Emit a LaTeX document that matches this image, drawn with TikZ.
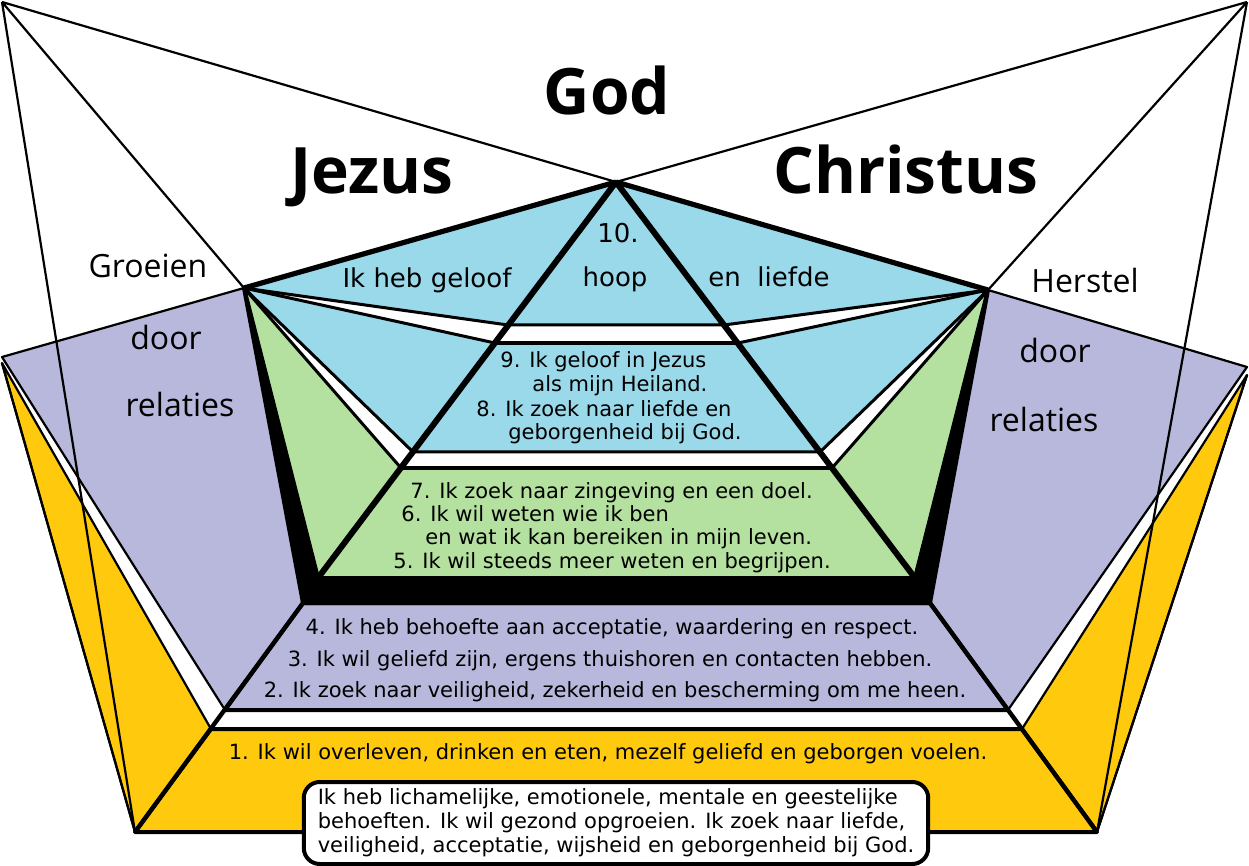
\documentclass[tikz,border=0pt]{standalone}
\usepackage{fontspec}
\setmainfont{DejaVu Sans}
\newfontfamily\titlefont{Open Sans}
\definecolor{skyblue}{HTML}{99D9EA}
\definecolor{palegreen}{HTML}{B4E0A0}
\definecolor{lavender}{HTML}{B8B8DC}
\definecolor{gold}{HTML}{FFC90E}

\begin{document}
\begin{tikzpicture}[x=0.5pt,y=-0.5pt,line join=round,
  thin line/.style={line width=1.1pt},
  txt/.style={inner sep=0pt,font=\fontsize{10.5}{12}\selectfont},
  toptxt/.style={inner sep=0pt,font=\fontsize{13}{15}\selectfont},
  big/.style={inner sep=0pt,font=\titlefont\bfseries\fontsize{32}{36}\selectfont},
  side/.style={inner sep=0pt,font=\titlefont\fontsize{16}{18}\selectfont}]
\useasboundingbox[fill=white] (0,0) rectangle (1249,866);
% outer points
\coordinate (TL) at (2,2); \coordinate (TR) at (1247,2);
\coordinate (A) at (616,182);
\coordinate (L) at (244,288); \coordinate (R) at (988,290);
\coordinate (FL) at (2,357); \coordinate (FR) at (1247,367);
\coordinate (FLy) at (2,363); \coordinate (FRy) at (1247,375);
\coordinate (BL) at (135,832); \coordinate (BR) at (1097,832);
% points of the steps
\coordinate (l325) at (508,325); \coordinate (r325) at (724,325);
\coordinate (l343) at (495,343); \coordinate (r343) at (738,343);
\coordinate (l452) at (413,452); \coordinate (r452) at (820,452);
\coordinate (l468) at (401,468); \coordinate (r468) at (832,468);
\coordinate (tl) at (318,578); \coordinate (tr) at (915,578);
\coordinate (bl) at (303,603); \coordinate (br) at (930,603);
\coordinate (pl) at (225,710); \coordinate (pr) at (1008,710);
\coordinate (yl) at (211,729); \coordinate (yr) at (1022,729);

% side wings
\filldraw[gold,draw=black,thin line] (FLy) -- (yl) -- (BL) -- cycle;
\filldraw[gold,draw=black,thin line] (FRy) -- (BR) -- (yr) -- cycle;
\filldraw[lavender,draw=black,thin line] (FL) -- (L) -- (bl) -- (pl) -- cycle;
\filldraw[lavender,draw=black,thin line] (R) -- (FR) -- (pr) -- (br) -- cycle;

% lower steps
\filldraw[gold,draw=black,line width=2pt] (yl) -- (yr) -- (BR) -- (BL) -- cycle;
\filldraw[lavender,draw=black,line width=2pt] (bl) -- (br) -- (pr) -- (pl) -- cycle;
\draw[line width=2.2pt] (bl) -- (BL) (br) -- (BR);

% blue and green steps
\foreach \p in {(A) -- (L) -- (l325) -- cycle, (A) -- (l325) -- (r325) -- cycle,
  (A) -- (r325) -- (R) -- cycle, (L) -- (l343) -- (r343) -- (R) -- (r452) -- (l452) -- cycle}
  \filldraw[skyblue,draw=black,line width=1.5pt] \p;
\filldraw[palegreen,draw=black,line width=1.5pt] (L) -- (l468) -- (r468) -- (R) -- (tr) -- (tl) -- cycle;
\draw[line width=2.6pt] (A) -- (L) (A) -- (R);
\draw[line width=2pt] (l343) -- (r343) (l468) -- (r468);
\draw[line width=1.4pt] (l325) -- (r325) (l452) -- (r452);

% black frame under the green step
\filldraw[line width=2pt] (L) -- (tl) -- (tr) -- (R) -- (br) -- (bl) -- cycle;
\draw[line width=3pt] (A) -- (tl) (A) -- (tr);

% lines from the top corners
\draw[thin line] (TL) -- (A) (TL) -- (L) (TL) -- (BL);
\draw[thin line] (TR) -- (A) (TR) -- (R) (TR) -- (BR);
\draw[thin line] (FLy) -- (BL) (FRy) -- (BR);

% titles
\node[big,anchor=base] (god) at (607,115) {God};
\node[big,anchor=base] (jezus) at (372,194) {Jezus};
\node[big,anchor=base] (christus) at (906,194) {Christus};
\node[side,anchor=base] (groeien) at (148,278) {Groeien};
\node[side,anchor=base] (doorL) at (166,350) {door};
\node[side,anchor=base] (relatiesL) at (180,417) {relaties};
\node[side,anchor=base] (herstel) at (1085,293) {Herstel};
\node[side,anchor=base] (doorR) at (1055,363) {door};
\node[side,anchor=base] (relatiesR) at (1044,432) {relaties};

% texts of the steps
\node[toptxt,anchor=base] (geloof) at (427,288) {Ik heb geloof};
\node[toptxt,anchor=base] (tien) at (618,243) {10.};
\node[toptxt,anchor=base] (hoop) at (615,287) {hoop};
\node[toptxt,anchor=base] (liefde) at (769,287) {en\ \ liefde};
\node[txt,anchor=base west] (negen) at (500,368) {9. Ik geloof in Jezus};
\node[txt,anchor=base west] (heiland) at (532,392) {als mijn Heiland.};
\node[txt,anchor=base west] (acht) at (476,417) {8. Ik zoek naar liefde en};
\node[txt,anchor=base west] (bijgod) at (508,440) {geborgenheid bij God.};
\node[txt,anchor=base west] (zeven) at (410,498) {7. Ik zoek naar zingeving en een doel.};
\node[txt,anchor=base west] (zes) at (401,522) {6. Ik wil weten wie ik ben};
\node[txt,anchor=base west] (leven) at (425,545) {en wat ik kan bereiken in mijn leven.};
\node[txt,anchor=base west] (vijf) at (393,568) {5. Ik wil steeds meer weten en begrijpen.};
\node[txt,anchor=base] (vier) at (612,634) {4. Ik heb behoefte aan acceptatie, waardering en respect.};
\node[txt,anchor=base] (drie) at (610,666) {3. Ik wil geliefd zijn, ergens thuishoren en contacten hebben.};
\node[txt,anchor=base] (twee) at (615,697) {2. Ik zoek naar veiligheid, zekerheid en bescherming om me heen.};
\node[txt,anchor=base] (een) at (608,759) {1. Ik wil overleven, drinken en eten, mezelf geliefd en geborgen voelen.};

% box at the bottom
\node[txt,draw,fill=white,line width=2pt,rounded corners=8pt,align=left,
  inner xsep=7pt,inner ysep=3pt,minimum height=41pt] (behoeften) at (616,823)
  {Ik heb lichamelijke, emotionele, mentale en geestelijke\\
   behoeften. Ik wil gezond opgroeien. Ik zoek naar liefde,\\
   veiligheid, acceptatie, wijsheid en geborgenheid bij God.};
\end{tikzpicture}
\end{document}
